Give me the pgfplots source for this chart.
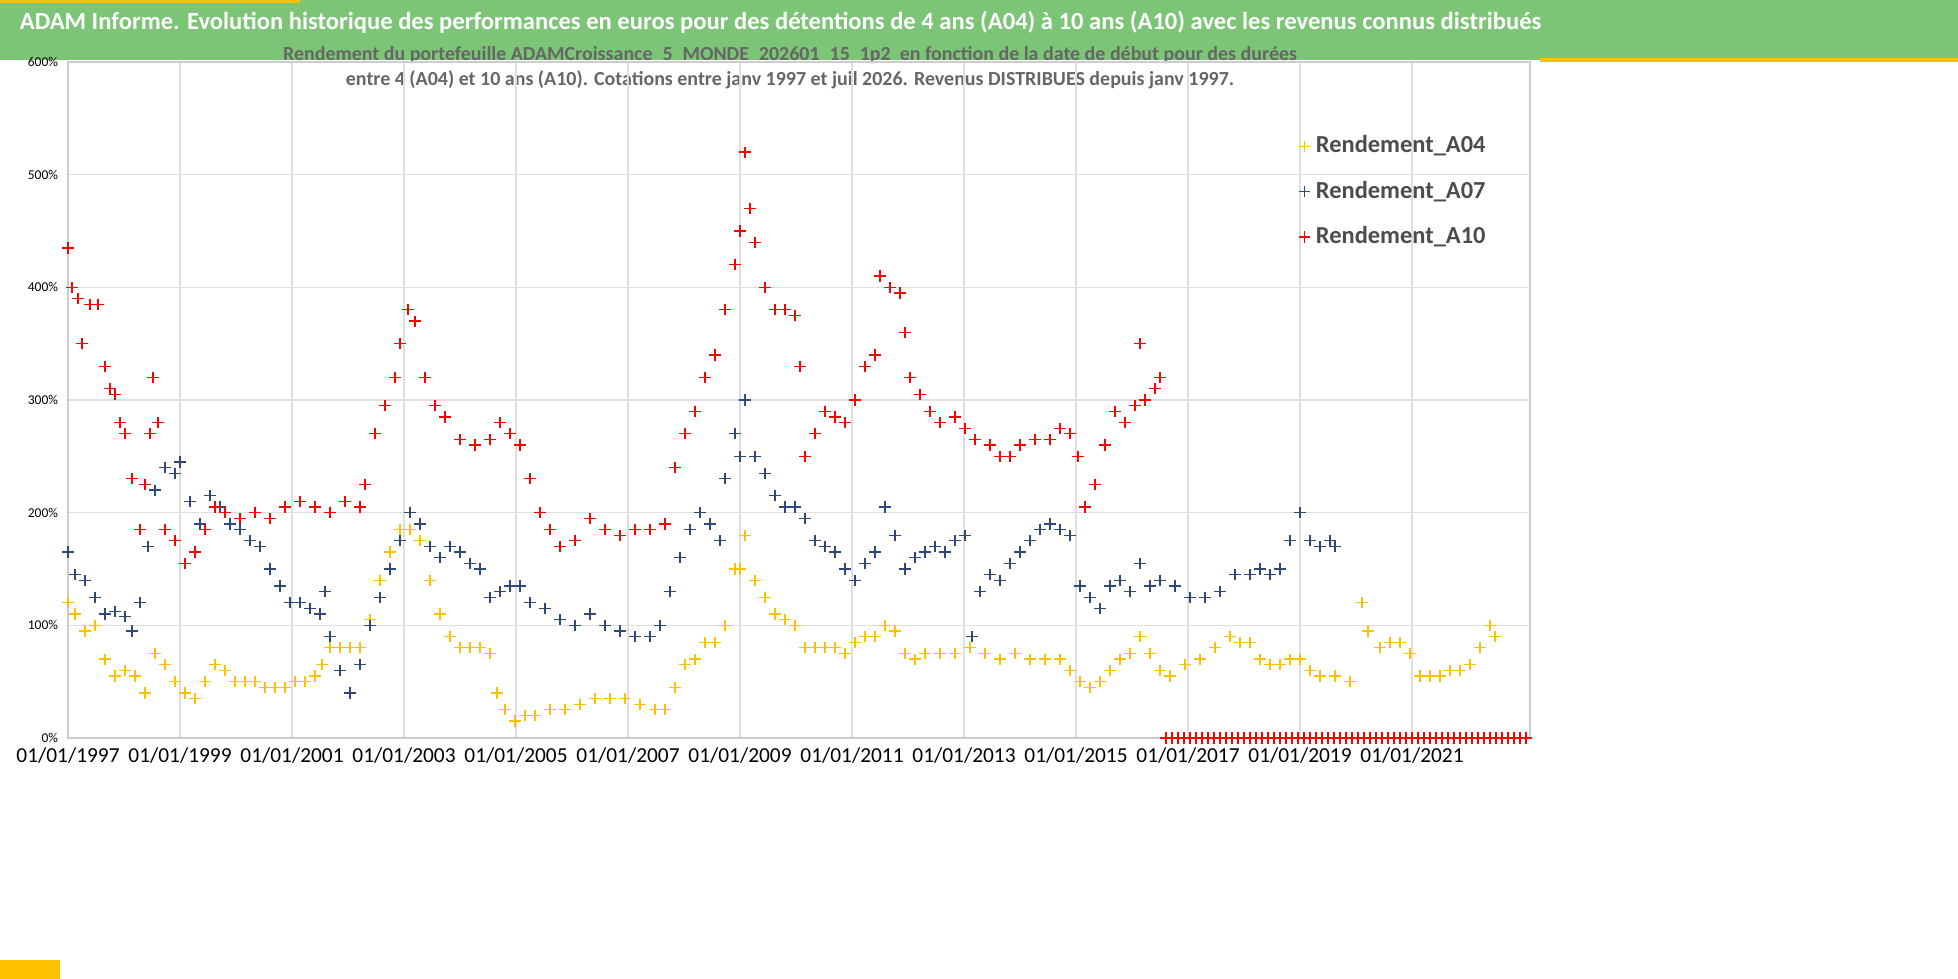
\documentclass[border=0pt]{standalone}
\usepackage{pgfplots}
\pgfplotsset{compat=1.18}
\usepackage{fontspec}
\setmainfont{Carlito}
\definecolor{ttl}{HTML}{7CC576}
\definecolor{ya}{HTML}{FFC000}
\definecolor{na}{HTML}{2F4A7A}
\definecolor{ra}{HTML}{FF0000}
\def\px{0.125mm}
\begin{document}
\begin{tikzpicture}
\path[use as bounding box] (0,0) rectangle ({1958*\px},{979*\px});
\fill[white] (0,0) rectangle ({1958*\px},{979*\px});
\fill[ttl] (0,{919*\px}) rectangle ({1958*\px},{979*\px});
\fill[ya] (0,{976*\px}) rectangle ({300*\px},{979*\px});
\fill[ya] ({1540*\px},{917*\px}) rectangle ({1958*\px},{921*\px});
\fill[ya] (0,0) rectangle ({60*\px},{19*\px});
\begin{pgfinterruptboundingbox}
\node[anchor=west,text=white,font=\bfseries\fontsize{8.75pt}{10pt}\selectfont] at ({10*\px},{957*\px}) {ADAM Informe. Evolution historique des performances en euros pour des détentions de 4 ans (A04) à 10 ans (A10) avec les revenus connus distribués};
\node[align=center,text=gray!80!black,font=\bfseries\fontsize{7.1pt}{9pt}\selectfont] at ({790*\px},{911*\px}) {Rendement du portefeuille ADAMCroissance\_5\_MONDE\_202601\_15\_1p2 \ en fonction de la date de début pour des durées\\entre 4 (A04) et 10 ans (A10). Cotations entre janv 1997 et juil 2026. Revenus DISTRIBUES depuis janv 1997.};
\begin{axis}[at={({68*\px},{241*\px})},anchor=south west,
 scale only axis,width={1462*\px},height={676*\px},
 xmin=68,xmax=1530,ymin=0,ymax=600,
 xtick={68,180,292,404,516,628,740,852,964,1076,1188,1300,1412},
 xticklabels={01/01/1997,01/01/1999,01/01/2001,01/01/2003,01/01/2005,01/01/2007,01/01/2009,01/01/2011,01/01/2013,01/01/2015,01/01/2017,01/01/2019,01/01/2021},
 ytick={0,100,...,600},yticklabel={\pgfmathprintnumber{\tick}\%},
 /pgf/number format/assume math mode=true,
 xticklabel style={font=\fontsize{7.6pt}{8pt}\selectfont,text=black},
 yticklabel style={font=\fontsize{4.8pt}{5pt}\selectfont,text=black},
 grid=major,major grid style={gray!25},axis line style={gray!40},
 tick style={draw=none},
 legend style={at={(axis cs:1290,545)},anchor=north west,draw=none,fill=none,font=\bfseries\fontsize{8.7pt}{10pt}\selectfont,text=black!70,row sep=4.5pt},
 legend cell align=left,
 every axis plot/.append style={only marks,mark=+,mark size=2pt,line width=0.45pt}]
\addplot[ya] coordinates {(68,120)(75,110)(85,95)(95,100)(105,70)(115,55)(125,60)(135,55)(145,40)(155,75)(165,65)(175,50)(185,40)(195,35)(205,50)(215,65)(225,60)(235,50)(245,50)(255,50)(265,45)(275,45)(285,45)(295,50)(305,50)(315,55)(322,65)(330,80)(340,80)(350,80)(360,80)(370,105)(380,140)(390,165)(400,185)(410,185)(420,175)(430,140)(440,110)(450,90)(460,80)(470,80)(480,80)(490,75)(497,40)(505,25)(515,15)(525,20)(535,20)(550,25)(565,25)(580,30)(595,35)(610,35)(625,35)(640,30)(655,25)(665,25)(675,45)(685,65)(695,70)(705,85)(715,85)(725,100)(735,150)(740,150)(745,180)(755,140)(765,125)(775,110)(785,105)(795,100)(805,80)(815,80)(825,80)(835,80)(845,75)(855,85)(865,90)(875,90)(885,100)(895,95)(905,75)(915,70)(925,75)(940,75)(955,75)(970,80)(985,75)(1000,70)(1015,75)(1030,70)(1045,70)(1060,70)(1070,60)(1080,50)(1090,45)(1100,50)(1110,60)(1120,70)(1130,75)(1140,90)(1150,75)(1160,60)(1170,55)(1185,65)(1200,70)(1215,80)(1230,90)(1240,85)(1250,85)(1260,70)(1270,65)(1280,65)(1290,70)(1300,70)(1310,60)(1320,55)(1335,55)(1350,50)(1362,120)(1368,95)(1380,80)(1390,85)(1400,85)(1410,75)(1420,55)(1430,55)(1440,55)(1450,60)(1460,60)(1470,65)(1480,80)(1490,100)(1495,90)};
\addlegendentry{Rendement\_A04}
\addplot[na] coordinates {(68,165)(75,145)(85,140)(95,125)(105,110)(115,112)(125,108)(132,95)(140,120)(148,170)(155,220)(165,240)(175,235)(180,245)(190,210)(200,190)(210,215)(220,205)(230,190)(240,185)(250,175)(260,170)(270,150)(280,135)(290,120)(300,120)(310,115)(320,110)(325,130)(330,90)(340,60)(350,40)(360,65)(370,100)(380,125)(390,150)(400,175)(410,200)(420,190)(430,170)(440,160)(450,170)(460,165)(470,155)(480,150)(490,125)(500,130)(510,135)(520,135)(530,120)(545,115)(560,105)(575,100)(590,110)(605,100)(620,95)(635,90)(650,90)(660,100)(670,130)(680,160)(690,185)(700,200)(710,190)(720,175)(725,230)(735,270)(740,250)(745,300)(755,250)(765,235)(775,215)(785,205)(795,205)(805,195)(815,175)(825,170)(835,165)(845,150)(855,140)(865,155)(875,165)(885,205)(895,180)(905,150)(915,160)(925,165)(935,170)(945,165)(955,175)(965,180)(972,90)(980,130)(990,145)(1000,140)(1010,155)(1020,165)(1030,175)(1040,185)(1050,190)(1060,185)(1070,180)(1080,135)(1090,125)(1100,115)(1110,135)(1120,140)(1130,130)(1140,155)(1150,135)(1160,140)(1175,135)(1190,125)(1205,125)(1220,130)(1235,145)(1250,145)(1260,150)(1270,145)(1280,150)(1290,175)(1300,200)(1310,175)(1320,170)(1330,175)(1335,170)};
\addlegendentry{Rendement\_A07}
\addplot[ra] coordinates {(68,435)(72,400)(78,390)(82,350)(90,385)(98,385)(105,330)(110,310)(115,305)(120,280)(125,270)(132,230)(140,185)(145,225)(150,270)(153,320)(158,280)(165,185)(175,175)(185,155)(195,165)(205,185)(215,205)(225,200)(240,195)(255,200)(270,195)(285,205)(300,210)(315,205)(330,200)(345,210)(360,205)(365,225)(375,270)(385,295)(395,320)(400,350)(408,380)(415,370)(425,320)(435,295)(445,285)(460,265)(475,260)(490,265)(500,280)(510,270)(520,260)(530,230)(540,200)(550,185)(560,170)(575,175)(590,195)(605,185)(620,180)(635,185)(650,185)(665,190)(675,240)(685,270)(695,290)(705,320)(715,340)(725,380)(735,420)(740,450)(745,520)(750,470)(755,440)(765,400)(775,380)(785,380)(795,375)(800,330)(805,250)(815,270)(825,290)(835,285)(845,280)(855,300)(865,330)(875,340)(880,410)(890,400)(900,395)(905,360)(910,320)(920,305)(930,290)(940,280)(955,285)(965,275)(975,265)(990,260)(1000,250)(1010,250)(1020,260)(1035,265)(1050,265)(1060,275)(1070,270)(1078,250)(1085,205)(1095,225)(1105,260)(1115,290)(1125,280)(1135,295)(1140,350)(1145,300)(1155,310)(1160,320)
(1166,0)(1172,0)(1178,0)(1184,0)(1190,0)(1196,0)(1202,0)(1208,0)(1214,0)(1220,0)(1226,0)(1232,0)(1238,0)(1244,0)(1250,0)(1256,0)(1262,0)(1268,0)(1274,0)(1280,0)(1286,0)(1292,0)(1298,0)(1304,0)(1310,0)(1316,0)(1322,0)(1328,0)(1334,0)(1340,0)(1346,0)(1352,0)(1358,0)(1364,0)(1370,0)(1376,0)(1382,0)(1388,0)(1394,0)(1400,0)(1406,0)(1412,0)(1418,0)(1424,0)(1430,0)(1436,0)(1442,0)(1448,0)(1454,0)(1460,0)(1466,0)(1472,0)(1478,0)(1484,0)(1490,0)(1496,0)(1502,0)(1508,0)(1514,0)(1520,0)(1526,0)};
\addlegendentry{Rendement\_A10}
\end{axis}
\end{pgfinterruptboundingbox}
\end{tikzpicture}
\end{document}
